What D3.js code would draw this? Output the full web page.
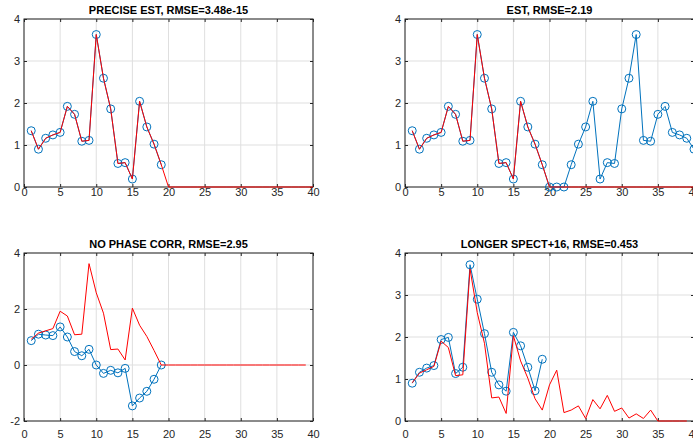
<!DOCTYPE html>
<html>
<head>
<meta charset="utf-8">
<script src="https://cdn.jsdelivr.net/npm/d3@7"></script>
<style>
  body { margin: 0; background: #fff; }
  svg { font-family: "Liberation Sans", Arial, sans-serif; }
  .axis text { fill: #262626; font-size: 11px; }
  .axis line { stroke: #262626; }
  .axis path { display: none; }
  .title { font-size: 11px; font-weight: bold; fill: #000; }
</style>
</head>
<body>
<script>
(function(){

var xTicks = [0, 5, 10, 15, 20, 25, 30, 35, 40];
var yTicksPos = [0, 1, 2, 3, 4];
var yTicksNeg = [-2, 0, 2, 4];

var titles = ["PRECISE EST, RMSE=3.48e-15", "EST, RMSE=2.19",
              "NO PHASE CORR, RMSE=2.95", "LONGER SPECT+16, RMSE=0.453"];

//true signal, samples 1..40
var trueSignal = [1.34, 0.9, 1.16, 1.24, 1.3, 1.92, 1.73, 1.09, 1.11, 3.63,
                  2.59, 1.86, 0.56, 0.58, 0.19, 2.04, 1.43, 1.02, 0.53, 0,
                  0, 0, 0, 0, 0, 0, 0, 0, 0, 0,
                  0, 0, 0, 0, 0, 0, 0, 0, 0, 0];

//precise estimate, samples 1..19
var preciseEst = [1.34, 0.9, 1.16, 1.24, 1.3, 1.92, 1.73, 1.09, 1.11, 3.63,
                  2.59, 1.86, 0.56, 0.58, 0.19, 2.04, 1.43, 1.02, 0.53];

//estimate, samples 1..40
var est = [1.34, 0.9, 1.16, 1.24, 1.3, 1.92, 1.73, 1.09, 1.11, 3.63,
           2.59, 1.86, 0.56, 0.58, 0.19, 2.04, 1.43, 1.02, 0.53, 0,
           0, 0, 0.53, 1.02, 1.43, 2.04, 0.19, 0.58, 0.56, 1.86,
           2.59, 3.63, 1.11, 1.09, 1.73, 1.92, 1.3, 1.24, 1.16, 0.9];

//reference signal for bottom panels, samples 1..39
var refShift = [0.92, 1.14, 1.22, 1.3, 1.92, 1.75, 1.08, 1.1, 3.62, 2.58,
                1.85, 0.55, 0.57, 0.18, 2.03, 1.42, 1.02, 0.52, 0, 0,
                0, 0, 0, 0, 0, 0, 0, 0, 0, 0,
                0, 0, 0, 0, 0, 0, 0, 0, 0];

var noPhaseEst = [0.87, 1.1, 1.07, 1.05, 1.36, 1.0, 0.48, 0.33, 0.56, 0,
                  -0.3, -0.19, -0.28, -0.12, -1.46, -1.18, -0.94, -0.51, 0];

var longerRef = [0.91, 1.14, 1.22, 1.3, 1.9, 1.75, 1.08, 1.1, 3.62, 2.58,
                 1.85, 0.55, 0.57, 0.18, 2.03, 1.43, 1.02, 0.53, 0.26, 0.86,
                 1.21, 0.2, 0.26, 0.36, 0.06, 0.51, 0.29, 0.61, 0.23, 0.31,
                 0.07, 0.17, 0.06, 0.26, 0, 0, 0, 0, 0];

var longerEst = [0.9, 1.16, 1.26, 1.32, 1.94, 1.99, 1.13, 1.28, 3.72, 2.9,
                 2.08, 1.16, 0.86, 0.71, 2.11, 1.79, 1.28, 0.72, 1.47];

var width = 693, height = 445;
var axW = 289, axH = 168;

var svg = d3.select("body").append("svg")
    .attr("width", width)
    .attr("height", height);

var panels = [
  {left: 24, top: 19, title: titles[0], yDomain: [0, 4], yTicks: yTicksPos, blue: preciseEst, red: trueSignal, pad: 1.5},
  {left: 405, top: 19, title: titles[1], yDomain: [0, 4], yTicks: yTicksPos, blue: est, red: trueSignal, pad: 1.5},
  {left: 24, top: 253, title: titles[2], yDomain: [-2, 4], yTicks: yTicksNeg, blue: noPhaseEst, red: refShift, pad: 9},
  {left: 405, top: 253, title: titles[3], yDomain: [0, 4], yTicks: yTicksPos, blue: longerEst, red: longerRef, pad: 9}
];

var fmt = function(d){ return String(d); };

panels.forEach(drawPanel);

function drawPanel(p){
    var x = d3.scaleLinear().domain([0, 40]).range([0, axW]);
    var y = d3.scaleLinear().domain(p.yDomain).range([axH, 0]);

    var g = svg.append("g")
        .attr("transform", "translate(" + p.left + "," + p.top + ")");

    //grid
    g.selectAll(".gx").data(xTicks).enter().append("line")
        .attr("x1", function(d){ return x(d); })
        .attr("x2", function(d){ return x(d); })
        .attr("y1", 0).attr("y2", axH)
        .style("stroke", "#dfdfdf");
    g.selectAll(".gy").data(p.yTicks).enter().append("line")
        .attr("y1", function(d){ return y(d); })
        .attr("y2", function(d){ return y(d); })
        .attr("x1", 0).attr("x2", axW)
        .style("stroke", "#dfdfdf");

    //axes, ticks inside
    g.append("g").attr("class", "axis")
        .attr("transform", "translate(0," + axH + ")")
        .call(d3.axisBottom(x).tickValues(xTicks).tickSize(-3).tickPadding(p.pad).tickFormat(fmt));
    g.append("g").attr("class", "axis")
        .call(d3.axisTop(x).tickValues(xTicks).tickSize(-3).tickFormat(""));
    g.append("g").attr("class", "axis")
        .call(d3.axisLeft(y).tickValues(p.yTicks).tickSize(-3).tickPadding(4).tickFormat(fmt));
    g.append("g").attr("class", "axis")
        .attr("transform", "translate(" + axW + ",0)")
        .call(d3.axisRight(y).tickValues(p.yTicks).tickSize(-3).tickFormat(""));

    g.append("rect")
        .attr("width", axW).attr("height", axH)
        .style("fill", "none")
        .style("stroke", "#262626")
        .style("stroke-width", 1);

    var line = d3.line()
        .x(function(d, i){ return x(i + 1); })
        .y(function(d){ return y(d); });

    //estimate
    g.append("path").datum(p.blue)
        .attr("d", line)
        .style("fill", "none")
        .style("stroke", "#0072BD")
        .style("stroke-width", 1);
    g.selectAll(".pt").data(p.blue).enter().append("circle")
        .attr("cx", function(d, i){ return x(i + 1); })
        .attr("cy", function(d){ return y(d); })
        .attr("r", 4)
        .style("fill", "none")
        .style("stroke", "#0072BD")
        .style("stroke-width", 1);

    //reference
    g.append("path").datum(p.red)
        .attr("d", line)
        .style("fill", "none")
        .style("stroke", "#ff0000")
        .style("stroke-width", 1);

    g.append("text")
        .attr("class", "title")
        .attr("x", axW / 2)
        .attr("y", -5)
        .attr("text-anchor", "middle")
        .text(p.title);
}

})();
</script>
</body>
</html>
